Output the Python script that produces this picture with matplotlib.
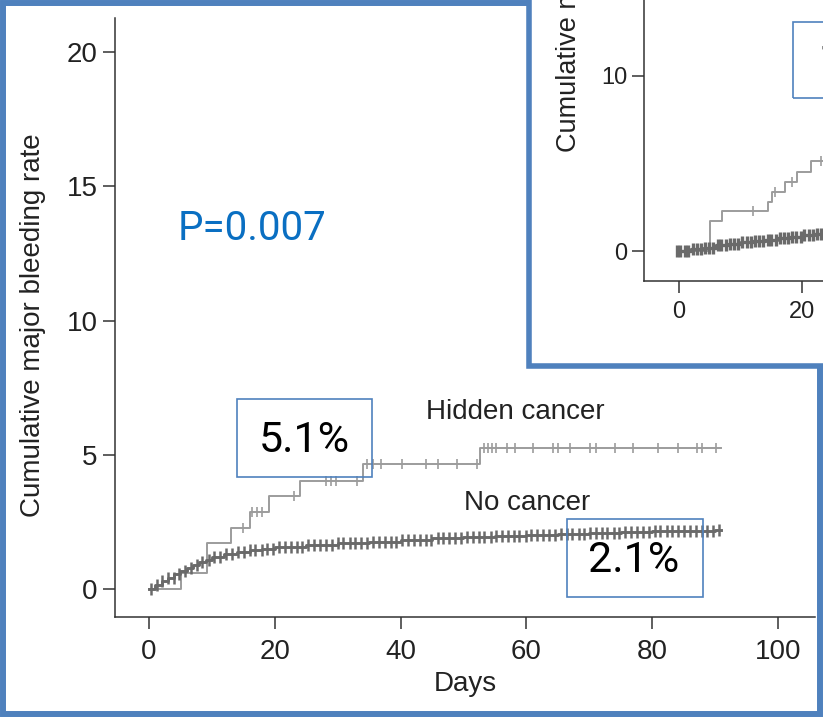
import matplotlib
matplotlib.use('Agg')
import matplotlib.pyplot as plt
import numpy as np
from matplotlib.patches import Rectangle

# ---------------- data ----------------
# Main panel: Kaplan-Meier style cumulative major bleeding (%)
hidden_days = [0, 5.1, 9.2, 13.1, 16.1, 19.0, 24.0, 34.1, 52.6, 91.0]
hidden_rate = [0, 0.60, 1.72, 2.29, 2.87, 3.45, 4.02, 4.64, 5.24, 5.24]
hidden_censor = [15.0, 16.3, 17.1, 18.0, 23.1, 28.2, 28.9, 29.8, 33.1, 34.6, 35.6,
                 36.9, 40.2, 44.0, 46.0, 49.0, 52.1, 53.2, 53.9, 54.5, 55.2, 57.0,
                 58.2, 61.1, 64.2, 65.1, 67.0, 70.1, 71.1, 74.1, 77.0, 81.0, 84.1,
                 87.1, 88.0, 90.1]

nocancer_days = [0, 1, 2, 3, 4, 5, 6, 7, 8, 9, 10, 12, 14, 16, 18, 20, 25, 30, 35,
                 40, 45, 50, 55, 60, 65, 70, 75, 80, 85, 90, 91]
nocancer_rate = [0, 0.15, 0.30, 0.43, 0.55, 0.66, 0.78, 0.90, 1.00, 1.10, 1.18, 1.29,
                 1.37, 1.44, 1.50, 1.55, 1.63, 1.70, 1.77, 1.83, 1.89, 1.94, 1.98,
                 2.02, 2.06, 2.09, 2.12, 2.15, 2.18, 2.21, 2.21]
nocancer_censor = [0.3, 1.2, 2.1, 3.0, 3.9, 4.8, 5.8, 6.7, 7.6, 8.5, 9.5, 10.4, 11.3,
                   12.3, 13.2, 14.1, 15.1, 16.0, 16.9, 17.9, 18.8, 19.7, 20.7, 21.6,
                   22.5, 23.5, 24.4, 25.3, 26.3, 27.2, 28.1, 29.1, 30.0, 30.9, 31.9,
                   32.8, 33.7, 34.7, 35.6, 36.5, 37.5, 38.4, 39.3, 40.3, 41.2, 42.1,
                   43.1, 44.0, 44.9, 45.9, 46.8, 47.7, 48.7, 49.6, 50.5, 51.5, 52.4,
                   53.3, 54.3, 55.2, 56.1, 57.1, 58.0, 58.9, 59.9, 60.8, 61.7, 62.7,
                   63.6, 64.5, 65.5, 66.4, 67.3, 68.3, 69.2, 70.1, 71.1, 72.0, 72.9,
                   73.9, 74.8, 75.7, 76.7, 77.6, 78.5, 79.5, 80.4, 81.3, 82.3, 83.2,
                   84.1, 85.1, 86.0, 86.9, 87.9, 88.8, 89.7, 90.6]

# Inset panel (cropped second chart)
inset_hidden_days = [0, 5.0, 7.0, 14.4, 15.2, 17.3, 19.2, 21.4, 24.0]
inset_hidden_rate = [0, 1.73, 2.29, 2.82, 3.39, 3.96, 4.53, 5.16, 5.16]
inset_hidden_censor = [12.1, 15.6, 18.3, 23.1]
inset_nocancer_days = [0, 2, 4, 6, 8, 10, 12, 14, 16, 18, 20, 22, 24]
inset_nocancer_rate = [0, 0.10, 0.20, 0.32, 0.42, 0.50, 0.58, 0.66, 0.74, 0.82, 0.90,
                       0.98, 1.06]
inset_nocancer_censor = [-0.4, 0.2, 0.9, 1.5, 2.2, 2.9, 3.6, 4.2, 4.9, 5.6, 6.3, 6.9,
                         7.6, 8.3, 9.0, 9.6, 10.3, 11.0, 11.7, 12.3, 13.0, 13.7, 14.4,
                         15.0, 15.7, 16.4, 17.1, 17.7, 18.4, 19.1, 19.8, 20.4, 21.1,
                         21.8, 22.5, 23.1, 23.8]

x_ticks = [0, 20, 40, 60, 80, 100]
y_ticks = [0, 5, 10, 15, 20]
inset_x_ticks = [0, 20]
inset_y_ticks = [0, 10]

label_hidden = "Hidden cancer"
label_none = "No cancer"
p_text = "P=0.007"
pct_hidden = "5.1%"
pct_none = "2.1%"
y_label = "Cumulative major bleeding rate"
x_label = "Days"

# ---------------- style ----------------
W, H = 823, 717
DPI = 100
BLUE = '#4f81bd'
DARK = '#6a6a6a'
LIGHT = '#9c9c9c'
AX = '#333333'
TXT = '#222222'
plt.rcParams['font.family'] = ['Liberation Sans', 'DejaVu Sans']


def fx(px):
    return px / W


def fy(py):
    return 1 - py / H


def step_value(days, rate, t):
    idx = np.searchsorted(np.asarray(days), np.asarray(t), side='right') - 1
    idx = np.clip(idx, 0, None)
    return np.asarray(rate)[idx]


fig = plt.figure(figsize=(W / DPI, H / DPI), dpi=DPI)
fig.patch.set_facecolor('white')

# ---------------- main axes ----------------
ax = fig.add_axes([fx(115), fy(617), fx(815) - fx(115), fy(18) - fy(617)])
ax.set_zorder(0)
ax.set_xticks(x_ticks)
ax.set_yticks(y_ticks)
ax.set_xlim(-5.41, 105.9)
ax.set_ylim(-1.04, 21.27)
for s in ['top', 'right']:
    ax.spines[s].set_visible(False)
for s in ['left', 'bottom']:
    ax.spines[s].set_color(AX)
    ax.spines[s].set_linewidth(1.1)
ax.tick_params(direction='out', length=8.5, width=1.1, color=AX, labelsize=20,
               labelcolor=TXT)
ax.tick_params(axis='x', pad=7)
ax.tick_params(axis='y', pad=4)
ax.set_xlabel(x_label, fontsize=20, color=TXT, labelpad=5)
ax.set_ylabel(y_label, fontsize=20, color=TXT)
ax.yaxis.set_label_coords((46 - 115) / 700, 0.487)

ax.step(nocancer_days, nocancer_rate, where='post', color=DARK, lw=2.1, zorder=3)
ax.plot(nocancer_censor, step_value(nocancer_days, nocancer_rate, nocancer_censor),
        ls='none', marker='|', ms=8, mew=1.8, color=DARK, zorder=3)
ax.step(hidden_days, hidden_rate, where='post', color=LIGHT, lw=1.4, zorder=2)
ax.plot(hidden_censor, step_value(hidden_days, hidden_rate, hidden_censor),
        ls='none', marker='|', ms=6.5, mew=1.2, color=LIGHT, zorder=2)

ax.text(58.2, 6.58, label_hidden, fontsize=20, color=TXT, ha='center', va='center')
ax.text(60.1, 3.22, label_none, fontsize=20, color=TXT, ha='center', va='center')

# annotation boxes and p-value (figure pixel layout)
fig.text(fx(252.5), fy(229), p_text, fontsize=29, color='#0a6fc2', family='Roboto',
         ha='center', va='center', zorder=5)
fig.add_artist(Rectangle((fx(237), fy(476.5)), fx(372) - fx(237), fy(398.5) - fy(476.5),
                         transform=fig.transFigure, fill=False, ec=BLUE, lw=1.2, zorder=5))
fig.text(fx(304), fy(440), pct_hidden, fontsize=31, color='black', family='Roboto',
         ha='center', va='center', zorder=5)
fig.add_artist(Rectangle((fx(567), fy(596.5)), fx(702.5) - fx(567), fy(518.5) - fy(596.5),
                         transform=fig.transFigure, fill=False, ec=BLUE, lw=1.2, zorder=5))
fig.text(fx(634), fy(560), pct_none, fontsize=31, color='black', family='Roboto',
         ha='center', va='center', zorder=5)

# outer frame
fig.add_artist(Rectangle((fx(3), fy(714)), fx(820) - fx(3), fy(3) - fy(714),
                         transform=fig.transFigure, fill=False, ec=BLUE, lw=4.3, zorder=1))

# ---------------- inset panel ----------------
fig.add_artist(Rectangle((fx(528.5), fy(366)), fx(900) - fx(528.5), fy(-50) - fy(366),
                         transform=fig.transFigure, fc='white', ec=BLUE, lw=4.0, zorder=2))

ax2 = fig.add_axes([fx(643.5), fy(281), 1 - fx(643.5), 1 - fy(281)])
ax2.set_zorder(3)
ax2.patch.set_visible(False)
ax2.set_xticks(inset_x_ticks)
ax2.set_yticks(inset_y_ticks)
ax2.set_xlim(-5.77, 23.41)
ax2.set_ylim(-1.71, 14.34)
for s in ['top', 'right']:
    ax2.spines[s].set_visible(False)
for s in ['left', 'bottom']:
    ax2.spines[s].set_color(AX)
    ax2.spines[s].set_linewidth(1.1)
ax2.tick_params(direction='out', length=8.5, width=1.1, color=AX, labelsize=17,
                labelcolor=TXT)
ax2.tick_params(axis='x', pad=6)
ax2.tick_params(axis='y', pad=3)
ax2.set_ylabel(y_label, fontsize=19.5, color=TXT)
ax2.yaxis.set_label_coords((582 - 643.5) / 179.5, (281 + 36) / 281)

ax2.step(inset_nocancer_days, inset_nocancer_rate, where='post', color=DARK, lw=2.4,
         zorder=3)
ax2.plot(inset_nocancer_censor,
         step_value(inset_nocancer_days, inset_nocancer_rate, inset_nocancer_censor),
         ls='none', marker='|', ms=9, mew=2.4, color=DARK, zorder=3)
ax2.step(inset_hidden_days, inset_hidden_rate, where='post', color=LIGHT, lw=1.4, zorder=2)
ax2.plot(inset_hidden_censor,
         step_value(inset_hidden_days, inset_hidden_rate, inset_hidden_censor),
         ls='none', marker='|', ms=6.5, mew=1.2, color=LIGHT, zorder=2)

# cropped box in inset
fig.add_artist(Rectangle((fx(793), fy(98)), fx(900) - fx(793), fy(22) - fy(98),
                         transform=fig.transFigure, fill=False, ec=BLUE, lw=1.2, zorder=6))
fig.text(fx(818), fy(60), "1", fontsize=31, color='black', family='Roboto',
         ha='left', va='center', zorder=6)

fig.savefig('out.png', dpi=DPI)
